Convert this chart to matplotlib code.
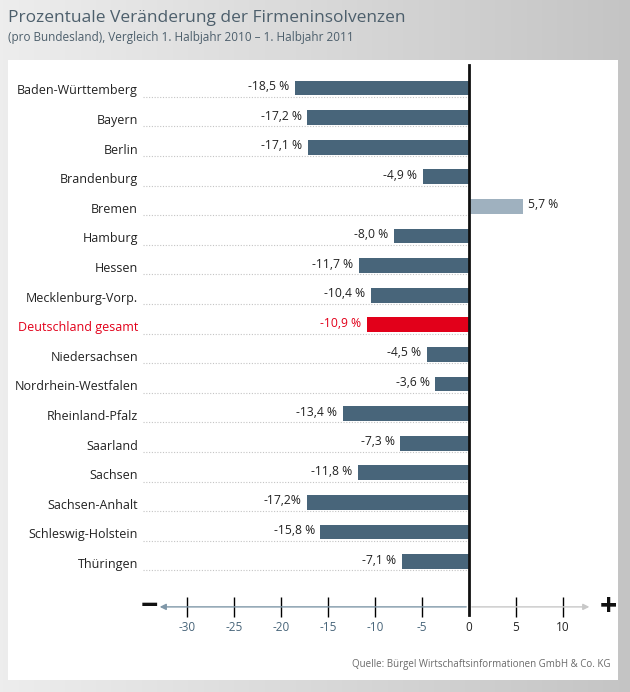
import numpy as np
import matplotlib
matplotlib.use('Agg')
from matplotlib import pyplot as plt
from matplotlib.patches import Rectangle

plt.rcParams['font.family'] = ['Open Sans', 'DejaVu Sans']

states = ['Baden-Württemberg', 'Bayern', 'Berlin', 'Brandenburg', 'Bremen', 'Hamburg',
          'Hessen', 'Mecklenburg-Vorp.', 'Deutschland gesamt', 'Niedersachsen',
          'Nordrhein-Westfalen', 'Rheinland-Pfalz', 'Saarland', 'Sachsen',
          'Sachsen-Anhalt', 'Schleswig-Holstein', 'Thüringen']
values = [-18.5, -17.2, -17.1, -4.9, 5.7, -8.0, -11.7, -10.4, -10.9, -4.5,
          -3.6, -13.4, -7.3, -11.8, -17.2, -15.8, -7.1]
value_labels = ['-18,5 %', '-17,2 %', '-17,1 %', '-4,9 %', '5,7 %', '-8,0 %', '-11,7 %',
                '-10,4 %', '-10,9 %', '-4,5 %', '-3,6 %', '-13,4 %', '-7,3 %', '-11,8 %',
                '-17,2%', '-15,8 %', '-7,1 %']
xticks = [-30, -25, -20, -15, -10, -5, 0, 5, 10]

W, H = 630, 692
fig = plt.figure(figsize=(W/100, H/100), dpi=100)

# background gradient + white panel
bg = fig.add_axes([0, 0, 1, 1])
grad = np.linspace(0.93, 0.77, 256)[None, :]
bg.imshow(np.dstack([grad, grad, grad]), aspect='auto', extent=[0, W, H, 0])
bg.add_patch(Rectangle((8, 60), 610, 620, facecolor='white', edgecolor='none'))
bg.set_xlim(0, W); bg.set_ylim(H, 0)
bg.axis('off')

fig.text(8/W, 1-18/H, 'Prozentuale Veränderung der Firmeninsolvenzen', fontsize=12.5,
         color='#4d5f6c', va='center', ha='left')
fig.text(8/W, 1-37/H, '(pro Bundesland), Vergleich 1. Halbjahr 2010 – 1. Halbjahr 2011',
         fontsize=8.5, color='#4d5f6c', va='center', ha='left')
fig.text(610/W, 1-664/H, 'Quelle: Bürgel Wirtschaftsinformationen GmbH & Co. KG',
         fontsize=7, color='#6a6a6a', va='center', ha='right')

# main axes: x 0 at px 469, 9.4 px per unit; rows spaced 29.6 px from y=88
x0, xl, xr = 469, -35, 13.5
row0, dy = 88, 29.6
ytop, ybot = -0.9, 17.53
left = (x0 + xl*9.4)/W
width = (xr - xl)*9.4/W
bottom = 1 - (row0 + ybot*dy)/H
height = (ybot - ytop)*dy/H
ax = fig.add_axes([left, bottom, width, height])
ax.set_xlim(xl, xr)
ax.set_ylim(ybot, ytop)
ax.patch.set_alpha(0)
for s in ax.spines.values():
    s.set_visible(False)

y = np.arange(len(states))
colors = []
for st, v in zip(states, values):
    if st == 'Deutschland gesamt':
        colors.append('#e2001a')
    elif v > 0:
        colors.append('#9fb1bf')
    else:
        colors.append('#48657a')

for yi in y:
    ax.plot([xl + 0.3, 0], [yi + 0.3, yi + 0.3], ls=(0, (1, 1.5)), color='#c4c4c4', lw=0.8)
ax.barh(y, values, height=0.5, color=colors, zorder=3)

for yi, st, v, lab, c in zip(y, states, values, value_labels, colors):
    tc = '#e2001a' if st == 'Deutschland gesamt' else '#222222'
    ax.text(xl - 0.2, yi + 0.1, st, ha='right', va='center', fontsize=9, color=tc,
            clip_on=False)
    if v < 0:
        ax.text(v - 0.6, yi - 0.05, lab, ha='right', va='center', fontsize=8.7, color=tc)
    else:
        ax.text(v + 0.6, yi - 0.05, lab, ha='left', va='center', fontsize=8.7, color=tc)

# zero line
ax.plot([0, 0], [-0.78, ybot + 0.27], color='#111111', lw=2, zorder=4, clip_on=False)

# axis line with arrows
ax.annotate('', xy=(-33.2, ybot), xytext=(0, ybot), annotation_clip=False,
            arrowprops=dict(arrowstyle='-|>', color='#7f97a8', lw=1, mutation_scale=9))
ax.annotate('', xy=(13.1, ybot), xytext=(0, ybot), annotation_clip=False,
            arrowprops=dict(arrowstyle='-|>', color='#c8c8c8', lw=1, mutation_scale=9))
ax.text(-34.0, ybot, '−', fontsize=22, fontweight='bold', ha='center', va='center',
        color='#111111', clip_on=False)
ax.text(14.8, ybot, '+', fontsize=22, fontweight='bold', ha='center', va='center',
        color='#111111', clip_on=False)

ax.set_xticks(xticks)
ax.set_xticklabels([str(t) for t in xticks])
ax.set_yticks([])
ax.tick_params(axis='x', direction='inout', length=14, width=1, pad=3, labelsize=8.5)
for t, tick, lab in zip(xticks, ax.xaxis.get_major_ticks(), ax.get_xticklabels()):
    if t < 0:
        tick.tick1line.set_color('#7f97a8')
        lab.set_color('#48657a')
    elif t == 0:
        tick.tick1line.set_visible(False)
        lab.set_color('#222222')
    else:
        tick.tick1line.set_color('#d0d0d0')
        lab.set_color('#222222')

fig.savefig('out.png', dpi=100)
